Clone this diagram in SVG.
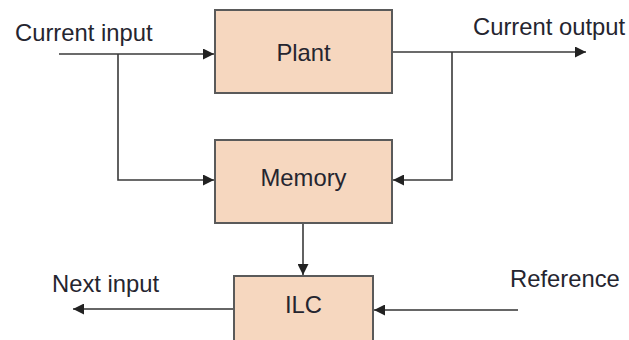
<svg xmlns="http://www.w3.org/2000/svg" width="629" height="340" viewBox="0 0 629 340">
  <style>
    .box { fill: #f6d7bf; stroke: #5a5a5a; stroke-width: 2; }
    .lbl { font-family: "Liberation Sans", Arial, sans-serif; font-size: 23.8px; fill: #25252f; }
    .wire { fill: none; stroke: #3a3a3a; stroke-width: 1.6; }
    .wire2 { fill: none; stroke: #666; stroke-width: 2; }
  </style>
  <defs>
    <marker id="arr" viewBox="0 0 10 10" refX="10" refY="5" markerWidth="11" markerHeight="11" markerUnits="userSpaceOnUse" orient="auto">
      <path d="M0,0 L10,5 L0,10 Z" fill="#222"/>
    </marker>
  </defs>
  <rect width="629" height="340" fill="#fff"/>

  <g id="connectors">
    <path class="wire" d="M59,54 H214" marker-end="url(#arr)"/>
    <path class="wire" d="M118,54 V180 H214" marker-end="url(#arr)"/>
    <path class="wire" d="M393,52 H586" marker-end="url(#arr)"/>
    <path class="wire" d="M452,52 V180 H393" marker-end="url(#arr)"/>
    <path class="wire" d="M303,224 V275" marker-end="url(#arr)"/>
    <path class="wire2" d="M233,309 H73" marker-end="url(#arr)"/>
    <path class="wire2" d="M518,310 H374" marker-end="url(#arr)"/>
  </g>

  <g id="plant">
    <rect class="box" x="215" y="10" width="177" height="83"/>
    <text class="lbl" x="303.5" y="61" text-anchor="middle">Plant</text>
  </g>
  <g id="memory">
    <rect class="box" x="215" y="140" width="177" height="83"/>
    <text class="lbl" x="303.5" y="186" text-anchor="middle">Memory</text>
  </g>
  <g id="ilc">
    <rect class="box" x="234" y="276" width="139" height="70"/>
    <text class="lbl" x="303.5" y="313" text-anchor="middle">ILC</text>
  </g>

  <g id="labels">
    <text class="lbl" x="15" y="41">Current input</text>
    <text class="lbl" x="473" y="35">Current output</text>
    <text class="lbl" x="52" y="292">Next input</text>
    <text class="lbl" x="510" y="287">Reference</text>
  </g>
</svg>
